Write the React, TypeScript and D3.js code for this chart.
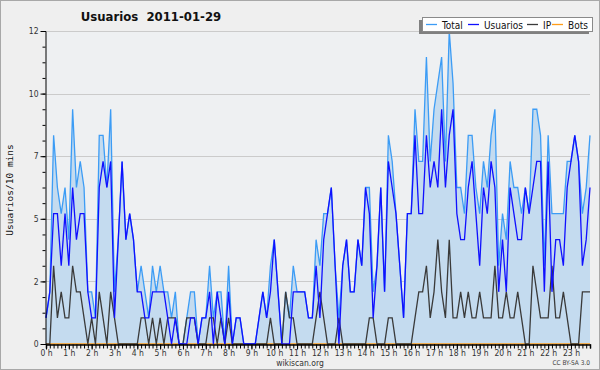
import React, { useEffect, useRef } from 'react';
import * as d3 from 'd3';

// users per 10 minutes, 144 slots for 2011-01-29
const total = [
  1, 2, 8, 6, 5, 6, 4, 9, 6, 7, 6, 2, 2, 1, 8, 8, 6, 9, 2, 4, 7, 4, 5, 4,
  2, 3, 2, 1, 3, 2, 3, 2, 2, 1, 2, 0, 0, 1, 2, 2, 0, 1, 1, 3, 1, 2, 2, 0,
  3, 0, 1, 1, 0, 0, 0, 0, 1, 2, 1, 3, 4, 2, 0, 2, 1, 3, 2, 2, 2, 1, 1, 4,
  3, 5, 5, 6, 3, 1, 3, 4, 2, 2, 4, 3, 6, 6, 2, 3, 6, 2, 8, 7, 5, 3, 1, 5,
  5, 9, 7, 7, 11, 7, 9, 10, 11, 7, 12, 10, 6, 6, 5, 8, 8, 6, 5, 7, 6, 8, 9, 3,
  5, 4, 7, 6, 6, 5, 6, 5, 9, 9, 8, 3, 8, 5, 5, 5, 5, 7, 7, 8, 7, 5, 6, 8,
];
const usuarios = [
  1, 2, 5, 5, 3, 5, 3, 6, 4, 5, 5, 2, 1, 1, 6, 7, 6, 7, 1, 4, 7, 4, 5, 4,
  2, 2, 1, 1, 2, 2, 2, 2, 1, 0, 1, 0, 0, 0, 1, 1, 0, 1, 1, 2, 0, 2, 1, 0,
  2, 0, 1, 1, 0, 0, 0, 0, 1, 2, 1, 2, 4, 2, 0, 0, 0, 2, 2, 2, 2, 1, 1, 3,
  1, 4, 5, 6, 3, 0, 3, 4, 2, 2, 4, 3, 6, 5, 1, 3, 6, 2, 7, 6, 5, 3, 1, 5,
  5, 8, 5, 5, 8, 6, 7, 6, 9, 6, 8, 9, 5, 4, 4, 6, 7, 5, 3, 6, 5, 7, 6, 2,
  4, 2, 6, 5, 4, 4, 6, 5, 6, 7, 7, 2, 7, 2, 4, 4, 3, 6, 7, 8, 7, 3, 4, 6,
];
const ip = [
  0, 0, 3, 1, 2, 1, 1, 3, 2, 2, 1, 0, 1, 0, 2, 1, 0, 2, 1, 0, 0, 0, 0, 0,
  0, 1, 1, 0, 1, 0, 1, 0, 1, 1, 1, 0, 0, 1, 1, 1, 0, 0, 0, 1, 1, 0, 1, 0,
  1, 0, 0, 0, 0, 0, 0, 0, 0, 0, 0, 1, 0, 0, 0, 2, 1, 1, 0, 0, 0, 0, 0, 1,
  2, 1, 0, 0, 0, 1, 0, 0, 0, 0, 0, 0, 0, 1, 1, 0, 0, 0, 1, 1, 0, 0, 0, 0,
  0, 1, 2, 2, 3, 1, 2, 4, 2, 1, 4, 1, 1, 2, 1, 2, 1, 1, 2, 1, 1, 1, 3, 1,
  1, 2, 1, 1, 2, 1, 0, 0, 3, 2, 1, 1, 1, 3, 1, 1, 2, 1, 0, 0, 0, 2, 2, 2,
];
const bots = total.map(() => 0);

const hourLabels = d3.range(24).map((h) => `${h} h`);
const yTicks = [0, 2.4, 4.8, 7.2, 9.6, 12];

const series = [
  { name: 'Total', values: total, color: '#3c9cf5' },
  { name: 'Usuarios', values: usuarios, color: '#1010ff' },
  { name: 'IP', values: ip, color: '#3a3a3a' },
  { name: 'Bots', values: bots, color: '#ff9d1a' },
];

const FONT = "'DejaVu Sans Condensed', 'DejaVu Sans', sans-serif";

const App = () => {
  const svgRef = useRef(null);

  useEffect(() => {
    document.body.style.margin = '0';
    const svg = d3.select(svgRef.current);
    svg.selectAll('*').remove();

    const width = 600;
    const height = 370;
    const left = 46;
    const right = 590;
    const top = 31;
    const bottom = 344;

    const x = d3.scaleLinear().domain([0, total.length - 1]).range([left, right]);
    const y = d3.scaleLinear().domain([0, 12]).range([bottom, top]);

    // background + frame
    svg.append('rect')
      .attr('x', 0.5).attr('y', 0.5)
      .attr('width', width - 1).attr('height', height - 1)
      .attr('fill', '#efefef')
      .attr('stroke', '#a8a8a8');

    svg.append('rect')
      .attr('x', left).attr('y', top)
      .attr('width', right - left).attr('height', bottom - top)
      .attr('fill', '#eef0f2');

    // grid
    svg.append('g')
      .selectAll('line')
      .data(yTicks.slice(1))
      .enter()
      .append('line')
      .attr('x1', left).attr('x2', right)
      .attr('y1', (d) => Math.round(y(d)) + 0.5)
      .attr('y2', (d) => Math.round(y(d)) + 0.5)
      .attr('stroke', '#cbcbcb');

    // total area
    const area = d3.area()
      .x((d, i) => x(i))
      .y0(y(0))
      .y1((d) => y(d));
    svg.append('path')
      .datum(total)
      .attr('d', area)
      .attr('fill', '#c4dbef');

    const line = d3.line()
      .x((d, i) => x(i))
      .y((d) => y(d));

    [series[3], series[0], series[2], series[1]].forEach((s) => {
      svg.append('path')
        .datum(s.values)
        .attr('d', line)
        .attr('fill', 'none')
        .attr('stroke', s.color)
        .attr('stroke-width', 1.3);
    });

    // y axis
    const yAxis = d3.axisLeft(y)
      .tickValues(d3.range(0, 12.01, 0.6))
      .tickSize(3)
      .tickFormat(() => '');
    const ya = svg.append('g').attr('transform', `translate(${left - 0.5},0)`).call(yAxis);
    ya.select('.domain').attr('stroke', '#000');
    ya.selectAll('.tick line').attr('stroke', '#000');

    const yMajor = d3.axisLeft(y)
      .tickValues(yTicks)
      .tickSize(5)
      .tickPadding(2)
      .tickFormat((d) => `${Math.round(d)}`);
    const ym = svg.append('g').attr('transform', `translate(${left - 0.5},0)`).call(yMajor);
    ym.select('.domain').remove();
    ym.selectAll('.tick line').attr('stroke', '#000');
    ym.selectAll('text')
      .attr('font-family', FONT)
      .attr('font-size', 8.5)
      .attr('fill', '#333');

    // x axis
    const xAxis = d3.axisBottom(x)
      .tickValues(d3.range(0, total.length))
      .tickSize(4)
      .tickFormat(() => '');
    const xa = svg.append('g').attr('transform', `translate(0,${bottom + 0.5})`).call(xAxis);
    xa.select('.domain').attr('stroke', '#000').attr('stroke-width', 1.5);
    xa.selectAll('.tick line').attr('stroke', '#000');

    const xMajor = d3.axisBottom(x)
      .tickValues(d3.range(0, 144, 6))
      .tickSize(5)
      .tickPadding(0)
      .tickFormat((d) => hourLabels[d / 6]);
    const xm = svg.append('g').attr('transform', `translate(0,${bottom + 0.5})`).call(xMajor);
    xm.select('.domain').remove();
    xm.selectAll('.tick line').attr('stroke', '#000');
    xm.selectAll('text')
      .attr('font-family', FONT)
      .attr('font-size', 8.5)
      .attr('fill', '#333');

    // title
    svg.append('text')
      .attr('x', 151).attr('y', 21)
      .attr('text-anchor', 'middle')
      .attr('font-family', FONT)
      .attr('font-weight', 'bold')
      .attr('font-size', 13)
      .attr('fill', '#111')
      .attr('xml:space', 'preserve')
      .text('Usuarios  2011-01-29');

    // y label
    svg.append('text')
      .attr('transform', 'translate(13,190) rotate(-90)')
      .attr('text-anchor', 'middle')
      .attr('font-family', 'DejaVu Sans Mono')
      .attr('font-size', 9.5)
      .attr('fill', '#111')
      .text('Usuarios/10 mins');

    // legend
    const lg = svg.append('g');
    lg.append('rect')
      .attr('x', 419).attr('y', 20)
      .attr('width', 170).attr('height', 14)
      .attr('fill', '#808080');
    lg.append('rect')
      .attr('x', 422.5).attr('y', 17.5)
      .attr('width', 170).attr('height', 14)
      .attr('fill', '#fff')
      .attr('stroke', '#8a8a8a');
    const items = [
      { s: series[0], x: 426 },
      { s: series[1], x: 468 },
      { s: series[2], x: 527 },
      { s: series[3], x: 552 },
    ];
    items.forEach(({ s, x: lx }) => {
      lg.append('line')
        .attr('x1', lx).attr('x2', lx + 11)
        .attr('y1', 24.5).attr('y2', 24.5)
        .attr('stroke', s.color)
        .attr('stroke-width', 1.3);
      lg.append('text')
        .attr('x', lx + 16).attr('y', 28.5)
        .attr('font-family', FONT)
        .attr('font-size', 10)
        .attr('fill', '#111')
        .text(s.name);
    });

    // footer
    svg.append('text')
      .attr('x', 300).attr('y', 366)
      .attr('text-anchor', 'middle')
      .attr('font-family', FONT)
      .attr('font-size', 8.5)
      .attr('fill', '#333')
      .text('wikiscan.org');
    svg.append('text')
      .attr('x', 590).attr('y', 365)
      .attr('text-anchor', 'end')
      .attr('font-family', FONT)
      .attr('font-size', 6.5)
      .attr('fill', '#444')
      .text('CC BY-SA 3.0');
  }, []);

  return (
    <div style={{ position: 'absolute', left: 0, top: 0, width: 600, height: 370 }}>
      <svg ref={svgRef} width={600} height={370}></svg>
    </div>
  );
};

export default App;
